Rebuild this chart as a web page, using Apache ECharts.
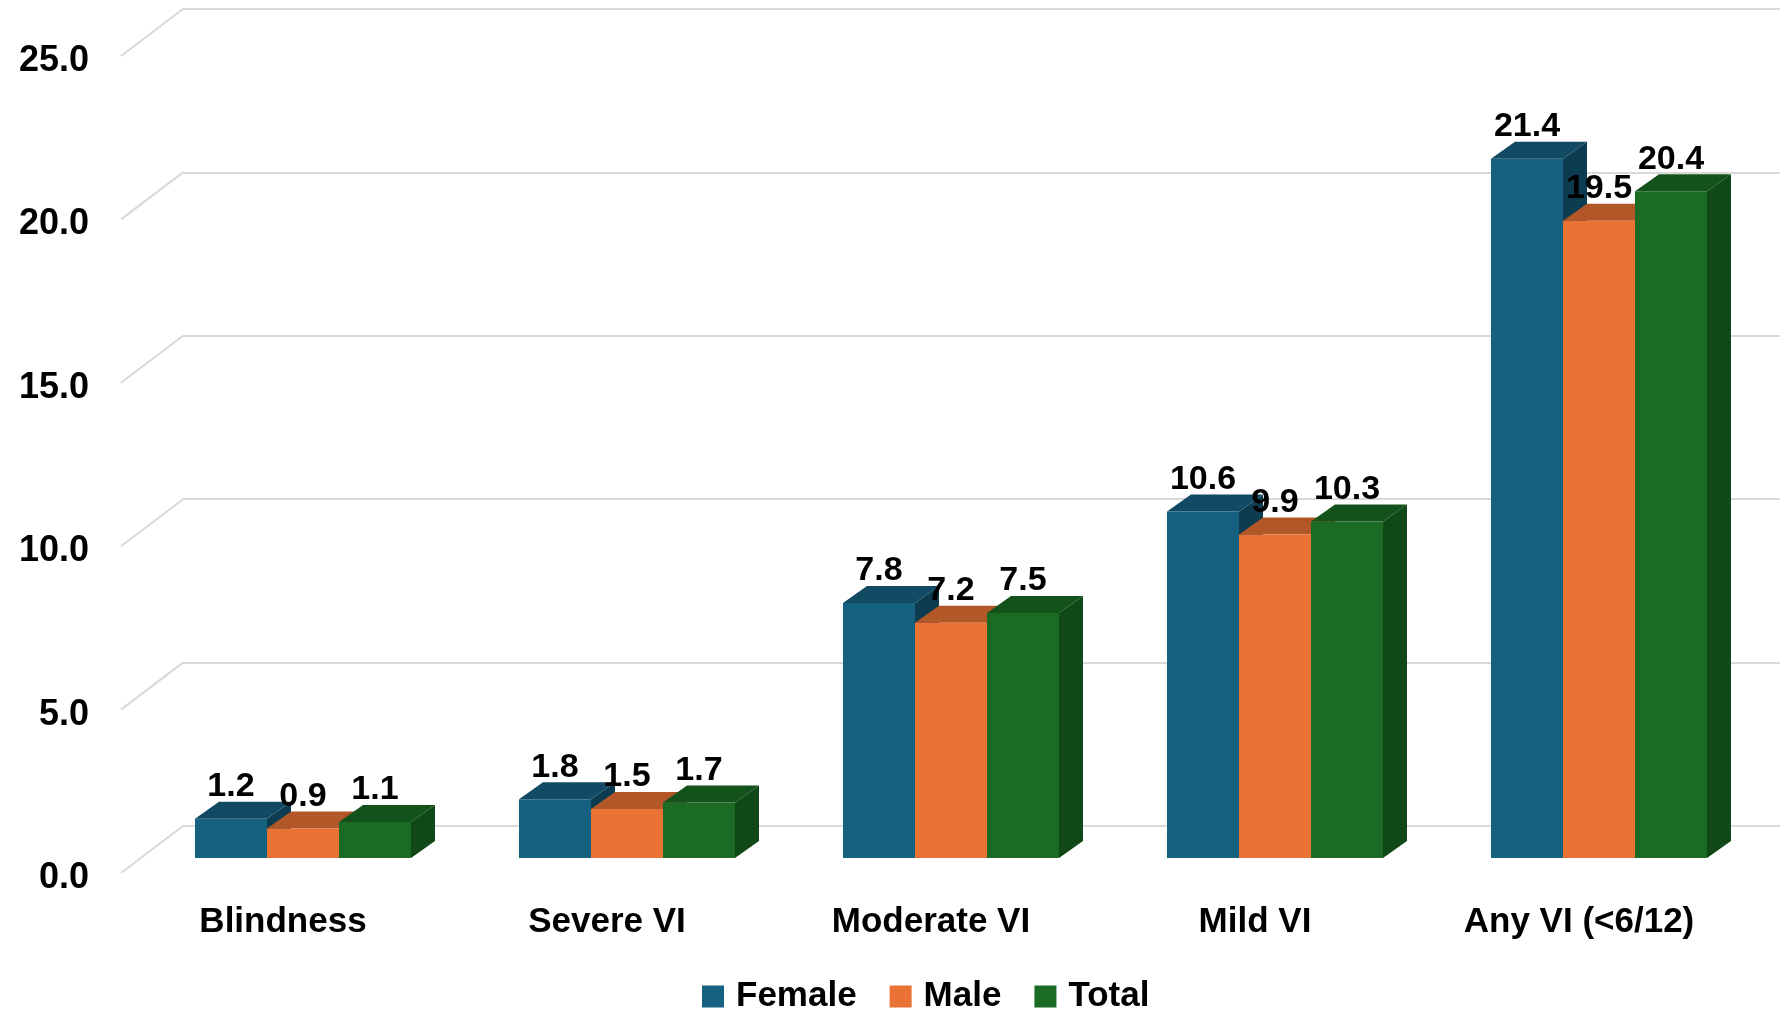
<!DOCTYPE html>
<html>
<head>
<meta charset="utf-8">
<script src="https://cdn.jsdelivr.net/npm/echarts@6/dist/echarts.min.js"></script>
<style>
  html, body { margin: 0; padding: 0; background: #ffffff; }
  #chart { width: 1780px; height: 1011px; }
</style>
</head>
<body>
<div id="chart"></div>
<script>
// Prevalence of visual impairment (%) by category and sex
const categories = ['Blindness', 'Severe VI', 'Moderate VI', 'Mild VI', 'Any VI (<6/12)'];
const female = [1.2, 1.8, 7.8, 10.6, 21.4];
const male = [0.9, 1.5, 7.2, 9.9, 19.5];
const total = [1.1, 1.7, 7.5, 10.3, 20.4];
const yTicks = [0, 5, 10, 15, 20, 25];
const seriesNames = ['Female', 'Male', 'Total'];

const FONT = '"Liberation Sans", Arial, sans-serif';

// front / top / side shades of each 3D bar colour
const shades = [
  { front: '#166080', top: '#124a63', side: '#0d3c50' },
  { front: '#e97234', top: '#b25828', side: '#9c4c22' },
  { front: '#1b6b24', top: '#14521b', side: '#114818' }
];

// perspective offsets (px): floor front edge -> back wall, floor front edge -> bar face, bar depth
const WALL = [62, -47];
const BAR_SHIFT = [20, -15];
const BAR_DEPTH = [24, -17];
const BAR_FRACTION = 72 / 324;

function barGeometry(k, api) {
  const i = api.value(0);
  const v = api.value(1);
  const base = api.coord([i, 0]);
  const topP = api.coord([i, v]);
  const band = api.size([1, 0])[0];
  const w = band * BAR_FRACTION;
  const x0 = base[0] + BAR_SHIFT[0] - 1.5 * w + k * w;
  return {
    v: v, w: w, x0: x0, x1: x0 + w,
    yb: base[1] + BAR_SHIFT[1],
    yt: topP[1] + BAR_SHIFT[1]
  };
}

function barRenderer(k) {
  return function (params, api) {
    const g = barGeometry(k, api);
    const dx = BAR_DEPTH[0], dy = BAR_DEPTH[1];
    const c = shades[k];
    return {
      type: 'group',
      children: [
        { type: 'polygon',
          shape: { points: [[g.x1, g.yt], [g.x1 + dx, g.yt + dy], [g.x1 + dx, g.yb + dy], [g.x1, g.yb]] },
          style: { fill: c.side } },
        { type: 'polygon',
          shape: { points: [[g.x0, g.yt], [g.x1, g.yt], [g.x1 + dx, g.yt + dy], [g.x0 + dx, g.yt + dy]] },
          style: { fill: c.top } },
        { type: 'rect',
          shape: { x: g.x0, y: g.yt, width: g.w, height: g.yb - g.yt },
          style: { fill: c.front } }
      ]
    };
  };
}

function labelRenderer(k) {
  return function (params, api) {
    const g = barGeometry(k, api);
    return {
      type: 'text',
      style: {
        text: g.v.toFixed(1),
        x: g.x0 + g.w / 2,
        y: g.yt + BAR_DEPTH[1] - 15,
        align: 'center',
        verticalAlign: 'middle',
        fill: '#000000',
        fontSize: 34,
        fontWeight: 'bold',
        fontFamily: FONT
      }
    };
  };
}

const seriesData = [female, male, total];
const toPairs = arr => arr.map((v, i) => [i, v]);

const barSeries = seriesData.map((arr, k) => ({
  name: seriesNames[k],
  type: 'custom',
  xAxisIndex: 1,
  yAxisIndex: 1,
  z: 3,
  clip: false,
  itemStyle: { color: shades[k].front },
  encode: { x: 0, y: 1 },
  data: toPairs(arr),
  renderItem: barRenderer(k)
}));

const labelSeries = seriesData.map((arr, k) => ({
  name: seriesNames[k],
  type: 'custom',
  xAxisIndex: 1,
  yAxisIndex: 1,
  z: 6,
  clip: false,
  silent: true,
  itemStyle: { color: shades[k].front },
  encode: { x: 0, y: 1 },
  data: toPairs(arr),
  renderItem: labelRenderer(k)
}));

// slanted floor-to-wall segments of each gridline on the left side
const wallEdges = {
  type: 'custom',
  xAxisIndex: 1,
  yAxisIndex: 1,
  z: 1,
  clip: false,
  silent: true,
  encode: { x: 0, y: 1 },
  data: yTicks.map(v => [0, v]),
  renderItem: function (params, api) {
    const y = api.coord([0, api.value(1)])[1];
    const x = params.coordSys.x;
    return {
      type: 'line',
      shape: { x1: x, y1: y, x2: x + WALL[0], y2: y + WALL[1] },
      style: { stroke: '#d9d9d9', lineWidth: 2 }
    };
  }
};

const chart = echarts.init(document.getElementById('chart'), null, { renderer: 'canvas' });

chart.setOption({
  animation: false,
  backgroundColor: '#ffffff',
  color: shades.map(s => s.front),
  legend: {
    data: seriesNames,
    left: 697,
    top: 974,
    icon: 'rect',
    itemWidth: 22,
    itemHeight: 22,
    itemGap: 33,
    textStyle: {
      color: '#000000',
      fontSize: 35,
      fontWeight: 'bold',
      fontFamily: FONT,
      padding: [0, 0, 0, 7]
    }
  },
  grid: [
    // back wall
    { left: 183, right: 0, top: 9, bottom: 185 },
    // front edge of the floor
    { left: 121, right: 39, top: 56, bottom: 138 },
    // value labels sit just below the front edge of each gridline
    { left: 121, right: 39, top: 61, bottom: 133 }
  ],
  xAxis: [
    { gridIndex: 0, type: 'category', data: categories, show: false },
    {
      gridIndex: 1,
      type: 'category',
      data: categories,
      axisLine: { show: false },
      axisTick: { show: false },
      splitLine: { show: false },
      axisLabel: {
        color: '#000000',
        fontSize: 35,
        fontWeight: 'bold',
        fontFamily: FONT,
        margin: 32,
        interval: 0
      }
    },
    { gridIndex: 2, type: 'category', data: categories, show: false }
  ],
  yAxis: [
    {
      gridIndex: 0,
      type: 'value',
      min: 0,
      max: 25,
      interval: 5,
      axisLine: { show: false },
      axisTick: { show: false },
      axisLabel: { show: false },
      splitLine: { show: true, lineStyle: { color: '#d9d9d9', width: 2 } }
    },
    {
      gridIndex: 1,
      type: 'value',
      min: 0,
      max: 25,
      interval: 5,
      axisLine: { show: false },
      axisTick: { show: false },
      splitLine: { show: false },
      axisLabel: { show: false }
    },
    {
      gridIndex: 2,
      type: 'value',
      min: 0,
      max: 25,
      interval: 5,
      axisLine: { show: false },
      axisTick: { show: false },
      splitLine: { show: false },
      axisLabel: {
        color: '#000000',
        fontSize: 36,
        fontWeight: 'bold',
        fontFamily: FONT,
        margin: 32,
        formatter: v => v.toFixed(1)
      }
    }
  ],
  series: [wallEdges].concat(barSeries, labelSeries)
});
</script>
</body>
</html>
